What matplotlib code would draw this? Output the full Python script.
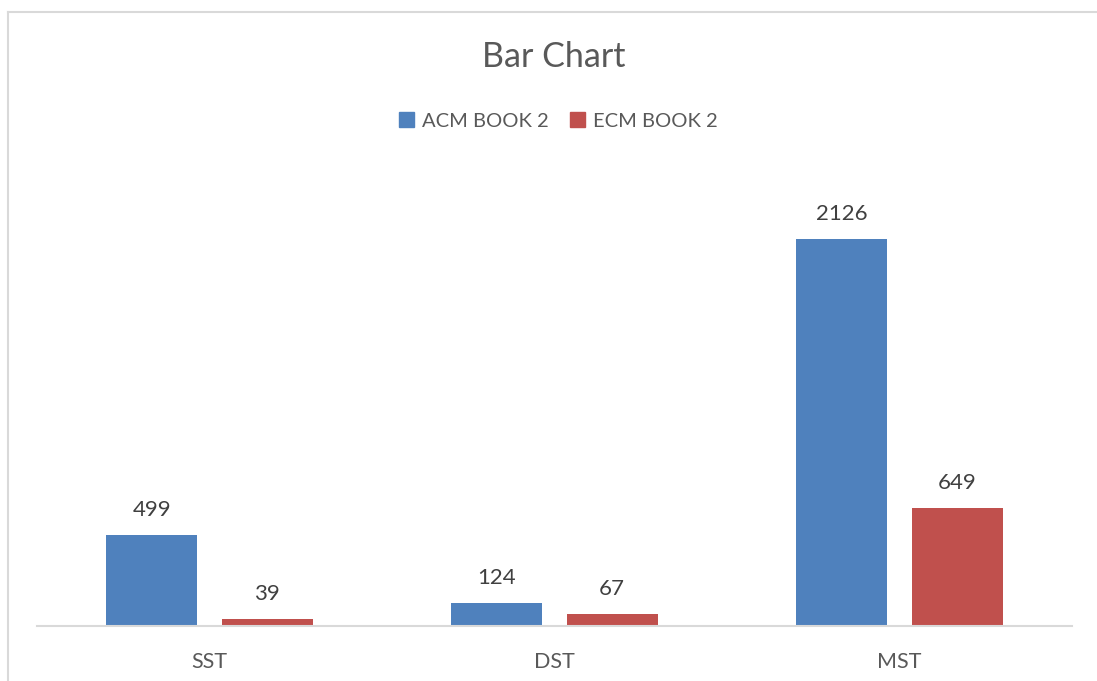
import matplotlib
matplotlib.use("Agg")
import matplotlib.pyplot as plt
import numpy as np
from matplotlib.lines import Line2D
from matplotlib.patches import Patch

categories = ["SST", "DST", "MST"]
acm_book2 = [499, 124, 2126]
ecm_book2 = [39, 67, 649]
series_names = ["ACM BOOK 2", "ECM BOOK 2"]

BLUE = "#4F81BD"
RED = "#C0504D"
TEXT = "#595959"
GRID = "#D9D9D9"
W, H = 1097, 681

plt.rcParams["font.family"] = ["Lato", "DejaVu Sans"]

fig = plt.figure(figsize=(W / 100, H / 100), dpi=100)
ax = fig.add_axes([37 / W, (H - 626) / H, (1072 - 37) / W, (626 - 171) / H])

x = np.arange(len(categories))
width = 0.264
offset = 0.167
b1 = ax.bar(x - offset, acm_book2, width, color=BLUE)
b2 = ax.bar(x + offset, ecm_book2, width, color=RED)

for bars in (b1, b2):
    for bar in bars:
        ax.annotate(f"{int(bar.get_height())}",
                    (bar.get_x() + bar.get_width() / 2, bar.get_height()),
                    xytext=(0, 11), textcoords="offset points",
                    ha="center", va="bottom", fontsize=16, color="#404040")

ax.set_xlim(-0.5, len(categories) - 0.5)
ax.set_ylim(0, 2500)
ax.set_yticks([])
ax.set_xticks(x)
ax.set_xticklabels(categories, fontsize=15.5, color=TEXT)
ax.tick_params(axis="x", length=0, pad=19)
for side in ["top", "right", "left"]:
    ax.spines[side].set_visible(False)
ax.spines["bottom"].set_color(GRID)
ax.spines["bottom"].set_linewidth(1.5)

fig.text(554 / W, 1 - 57 / H, "Bar Chart", ha="center", va="center",
         fontsize=24.5, color=TEXT)

handles = [Patch(color=BLUE), Patch(color=RED)]
fig.legend(handles, series_names, loc="center", bbox_to_anchor=(558 / W, 1 - 121 / H),
           ncol=2, frameon=False, fontsize=14.5, handlelength=0.75, handleheight=0.75,
           handletextpad=0.4, columnspacing=1.05, labelcolor=TEXT)

# chart border
fig.add_artist(Line2D([8 / W, 1], [1 - 12 / H, 1 - 12 / H], color=GRID, lw=1.5))
fig.add_artist(Line2D([8 / W, 8 / W], [0, 1 - 12 / H], color=GRID, lw=1.5))

fig.savefig("out.png", dpi=100, facecolor="white")
